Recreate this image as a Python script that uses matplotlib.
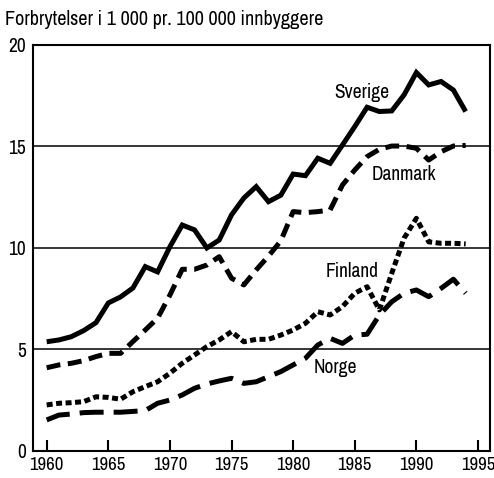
import matplotlib.pyplot as plt

years = list(range(1960, 1995))

sverige = [5.38, 5.47, 5.63, 5.93, 6.32, 7.29, 7.59, 8.03, 9.08, 8.82,
           10.06, 11.13, 10.89, 10.0, 10.39, 11.63, 12.46, 13.02, 12.28, 12.6,
           13.64, 13.56, 14.42, 14.17, 15.07, 15.98, 16.93, 16.72, 16.75, 17.54,
           18.64, 18.03, 18.2, 17.78, 16.72]
danmark = [4.1, 4.24, 4.32, 4.45, 4.65, 4.81, 4.81, 5.39, 5.96, 6.54,
           7.68, 8.95, 8.95, 9.16, 9.57, 8.51, 8.18, 8.92, 9.6, 10.35,
           11.79, 11.74, 11.79, 11.87, 13.1, 13.84, 14.5, 14.86, 15.02, 15.02,
           14.91, 14.33, 14.74, 15.02, 15.05]
finland = [2.27, 2.35, 2.38, 2.43, 2.67, 2.64, 2.55, 2.92, 3.17, 3.41,
           3.83, 4.32, 4.73, 5.14, 5.47, 5.88, 5.38, 5.5, 5.5, 5.71,
           5.96, 6.29, 6.86, 6.7, 7.11, 7.77, 8.09, 6.95, 8.75, 10.48,
           11.46, 10.3, 10.23, 10.23, 10.2]
norge = [1.53, 1.77, 1.82, 1.89, 1.91, 1.91, 1.91, 1.95, 1.99, 2.35,
         2.51, 2.76, 3.09, 3.30, 3.45, 3.58, 3.33, 3.41, 3.66, 3.91,
         4.24, 4.57, 5.22, 5.55, 5.3, 5.71, 5.75, 6.7, 7.35, 7.77,
         7.93, 7.6, 8.01, 8.46, 7.77]

plt.rcParams['font.family'] = ['Archivo Narrow', 'Roboto Condensed', 'DejaVu Sans']

fig = plt.figure(figsize=(4.94, 4.78), dpi=100)
ax = fig.add_axes([0.0668, 0.0565, 0.925, 0.8495])

ax.plot(years, sverige, color='black', lw=3.6, solid_capstyle='butt',
        solid_joinstyle='miter')
ax.plot(years, danmark, color='black', lw=3.6, linestyle=(0, (2.8, 1.5)),
        dash_capstyle='butt')
ax.plot(years, finland, color='black', lw=3.6, linestyle=(0, (1.2, 0.7)),
        dash_capstyle='butt')
ax.plot(years, norge, color='black', lw=3.6, linestyle=(0, (4.8, 2.0)),
        dash_capstyle='butt')

for y in [5, 10, 15]:
    ax.axhline(y, color='black', lw=1.1, zorder=0)

# series labels
ax.text(1983.3, 17.65, 'Sverige', fontsize=14, va='center')
ax.text(1986.4, 13.6, 'Danmark', fontsize=14, va='center')
ax.text(1982.65, 8.85, 'Finland', fontsize=14, va='center')
ax.text(1981.7, 4.1, 'Norge', fontsize=14, va='center')

ax.set_xlim(1958.89, 1995.97)
ax.set_ylim(0, 20)
ax.set_xticks(range(1960, 1996, 5))
ax.set_yticks([0, 5, 10, 15, 20])
ax.tick_params(axis='x', direction='in', length=8, width=1.5, labelsize=13.5, pad=4)
ax.tick_params(axis='y', length=0, labelsize=14, pad=5)
for s in ax.spines.values():
    s.set_linewidth(1.5)

fig.text(0.01, 0.98, 'Forbrytelser i 1 000 pr. 100 000 innbyggere',
         fontsize=14.5, va='top', ha='left')

fig.savefig('out.png', dpi=100)
